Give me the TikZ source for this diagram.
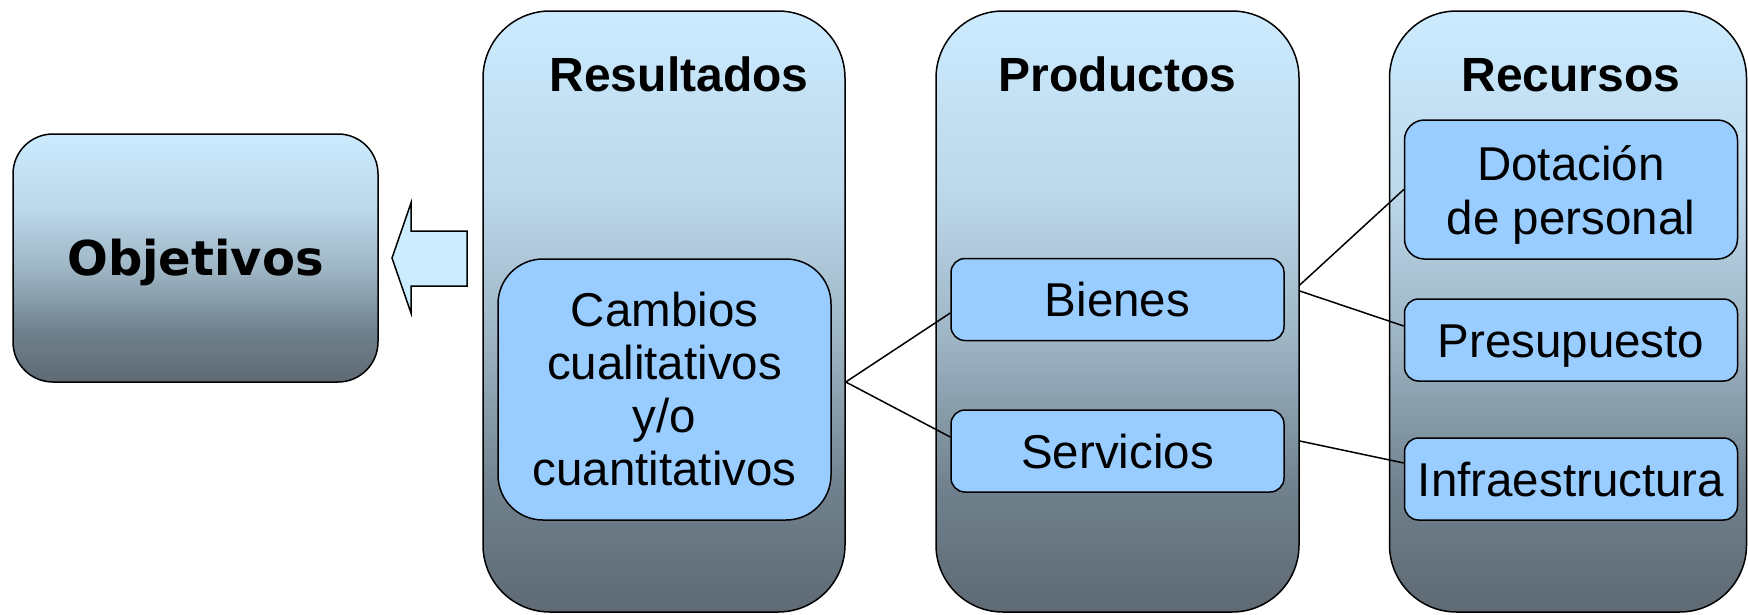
\documentclass[tikz,border=0pt]{standalone}
\usepackage{fontspec}
\setmainfont{Liberation Sans}
\newfontfamily\verdfont{DejaVu Sans}
\usetikzlibrary{calc}
\definecolor{ctop}{HTML}{CCEBFE}
\definecolor{cq1}{HTML}{BCD8EB}
\definecolor{cq2}{HTML}{9DB4C3}
\definecolor{cq3}{HTML}{6F808C}
\definecolor{cbot}{HTML}{5E6A74}
\definecolor{itemblue}{HTML}{99CCFF}
\definecolor{arrowblue}{HTML}{CCECFF}
\pgfdeclareverticalshading{colshade}{100bp}{color(0bp)=(cbot); color(25bp)=(cbot); color(35bp)=(cq3); color(47.5bp)=(cq2); color(60bp)=(cq1); color(75bp)=(ctop); color(100bp)=(ctop)}
\begin{document}
\begin{tikzpicture}[x=1pt,y=-1pt,
  colbox/.style={draw, line width=1.5pt, rounded corners=67pt, shading=colshade, inner sep=0pt, minimum height=601pt},
  coltitle/.style={font=\bfseries\fontsize{48}{52}\selectfont, anchor=base, inner sep=0pt},
  itembox/.style={draw, line width=1.5pt, fill=itemblue, rounded corners=14pt, inner sep=0pt,
    minimum width=333pt, minimum height=82pt, align=center, font=\fontsize{47.5}{54}\selectfont},
  oneline/.style={text height=34pt, text depth=0pt},
  link/.style={line width=1.5pt}]
\useasboundingbox (0,0) rectangle (1748,614);
% Objetivos
\node[draw, line width=1.5pt, rounded corners=40pt, shading=colshade, inner sep=0pt,
  minimum width=365pt, minimum height=248pt, text height=34pt, text depth=0pt,
  font=\verdfont\bfseries\fontsize{48}{50}\selectfont] (obj) at (195.5,258) {Objetivos};
% arrow
\draw[line width=1.5pt, fill=arrowblue, line join=miter]
  (392,258) -- (411,203) -- (411,231) -- (467,231) -- (467,286) -- (411,286) -- (411,313) -- cycle;
% columns
\node[colbox, minimum width=362pt] (res) at (664,311.5) {};
\node[colbox, minimum width=363pt] (prod) at (1117.5,311.5) {};
\node[colbox, minimum width=357pt] (rec) at (1568,311.5) {};
\node[coltitle] (tres) at (679,91) {Resultados};
\node[coltitle] (tprod) at (1117.5,91) {Productos};
\node[coltitle] (trec) at (1571,91) {Recursos};
% items
\node[itembox, rounded corners=45pt, minimum height=261pt, font=\fontsize{47.5}{53}\selectfont] (camb) at (664.5,389.5)
  {Cambios\\cualitativos\\y/o\\cuantitativos\rule[-2pt]{0pt}{0pt}};
\node[itembox, oneline] (bien) at (1117.5,299.5) {Bienes};
\node[itembox, oneline] (serv) at (1117.5,451) {Servicios};
\node[itembox, rounded corners=20pt, minimum height=139pt] (dot) at (1571,189.5) {\rule{0pt}{45pt}Dotación\\de personal};
\node[itembox, oneline] (pres) at (1571,340) {Presupuesto};
\node[itembox, oneline] (infra) at (1571,479) {Infraestructura};
% connectors
\draw[link] ($(res.east)+(0,70.5)$) -- ($(bien.west)+(0,13.5)$);
\draw[link] ($(res.east)+(0,70.5)$) -- ($(serv.west)+(0,-14)$);
\draw[link] ($(prod.east)+(0,-26.5)$) -- (dot.west);
\draw[link] ($(prod.east)+(0,-20.5)$) -- ($(pres.west)+(0,-14)$);
\draw[link] ($(prod.east)+(0,129.5)$) -- ($(infra.west)+(0,-16)$);
\end{tikzpicture}
\end{document}
